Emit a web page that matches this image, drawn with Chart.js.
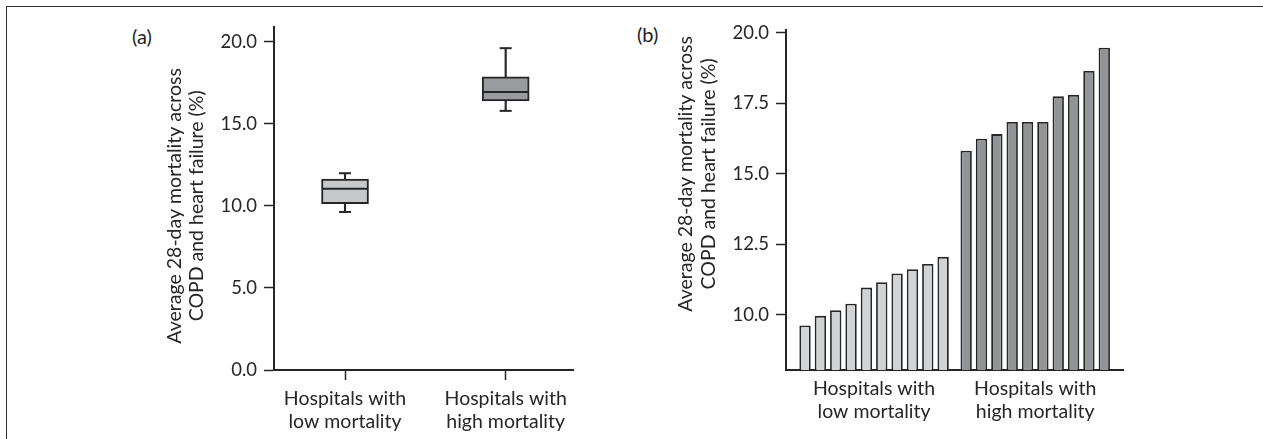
<!DOCTYPE html>
<html>
<head>
<meta charset="utf-8">
<script src="https://cdn.jsdelivr.net/npm/chart.js@4"></script>
<style>
  html, body { margin: 0; padding: 0; background: #fff; }
  body { width: 1263px; height: 439px; position: relative; overflow: hidden; font-family: Lato, sans-serif; }
  #frame { position: absolute; left: 6px; top: 6px; width: 1300px; height: 500px; border-top: 1.5px solid #333; border-left: 1.5px solid #333; }
  .plabel { position: absolute; font-size: 20px; line-height: 22px; color: #222; }
  .wrap { position: absolute; top: 0; }
</style>
</head>
<body>
<div id="frame"></div>
<div class="plabel" style="left:132px;top:25px">(a)</div>
<div class="plabel" style="left:637px;top:23px">(b)</div>
<div class="wrap" style="left:120px"><canvas id="ca" width="480" height="439"></canvas></div>
<div class="wrap" style="left:630px"><canvas id="cb" width="520" height="439"></canvas></div>
<script>
// ---------- data ----------
const yTitleLines = ['Average 28-day mortality across', 'COPD and heart failure (%)'];

// Panel (a): box plots
const categoriesA = [['Hospitals with', 'low mortality'], ['Hospitals with', 'high mortality']];
const boxMin    = [9.63, 15.79];
const boxQ1     = [10.14, 16.40];
const boxMedian = [11.04, 16.94];
const boxQ3     = [11.64, 17.86];
const boxMax    = [11.99, 19.61];
const yTicksA   = [0, 5, 10, 15, 20];

// Panel (b): hospital bars
const groupLabelsB = [['Hospitals with', 'low mortality'], ['Hospitals with', 'high mortality']];
const lowBars  = [9.63, 9.97, 10.17, 10.40, 10.97, 11.16, 11.47, 11.62, 11.81, 12.06];
const highBars = [15.82, 16.25, 16.41, 16.84, 16.84, 16.84, 17.75, 17.80, 18.65, 19.47];
const yTicksB  = [10, 12.5, 15, 17.5, 20];

// ---------- styles ----------
const INK = '#262626';
const TEXT_FONT = { family: 'Lato', size: 19.5 };
const TICK_FONT = { family: 'Lato', size: 18.5 };
const LOW_FILL = '#d2d3d5', HIGH_FILL = '#939498';
const BOX_LOW = '#c7c8ca', BOX_HIGH = '#9a9b9f';

const sideTitle = {
  id: 'sideTitle',
  afterDraw(chart, args, opts) {
    const ctx = chart.ctx;
    const y = chart.scales.y.getPixelForValue(opts.centerValue);
    const x = chart.chartArea.left - opts.offset;
    ctx.save();
    ctx.translate(x, y);
    ctx.rotate(-Math.PI / 2);
    ctx.fillStyle = INK;
    ctx.font = TEXT_FONT.size + 'px ' + TEXT_FONT.family;
    ctx.textAlign = 'center';
    ctx.textBaseline = 'middle';
    const n = opts.lines.length;
    opts.lines.forEach((t, i) => ctx.fillText(t, 0, (i - (n - 1) / 2) * opts.spacing));
    ctx.restore();
  }
};

function axisGrid(ticks) {
  return { display: ticks, drawOnChartArea: false, drawTicks: ticks, tickLength: 10, tickWidth: 1.5, tickColor: INK, offset: false };
}
const border = { display: true, color: INK, width: 2 };
const xLabelFont = { ...TEXT_FONT, lineHeight: 1.18 };

// ---------- panel (a) ----------
new Chart(document.getElementById('ca'), {
  type: 'bar',
  data: {
    datasets: [
      { type: 'bar', label: 'whisker', grouped: false, order: 3,
        data: categoriesA.map((c, i) => ({ x: i + 1, y: [boxMin[i], boxMax[i]] })),
        backgroundColor: INK, borderWidth: 0, barThickness: 1.5 },
      { type: 'bar', label: 'box', grouped: false, order: 2,
        data: categoriesA.map((c, i) => ({ x: i + 1, y: [boxQ1[i], boxQ3[i]] })),
        backgroundColor: [BOX_LOW, BOX_HIGH], borderColor: INK, borderWidth: 2, borderSkipped: false, barThickness: 47 },
      { type: 'line', label: 'median', order: 1, showLine: false,
        data: categoriesA.map((c, i) => ({ x: i + 1, y: boxMedian[i] })),
        pointStyle: 'line', pointRadius: 23, pointHoverRadius: 23, pointBorderWidth: 2, pointBorderColor: INK },
      { type: 'line', label: 'caps', order: 1, showLine: false,
        data: categoriesA.flatMap((c, i) => [{ x: i + 1, y: boxMin[i] }, { x: i + 1, y: boxMax[i] }]),
        pointStyle: 'line', pointRadius: 6, pointHoverRadius: 6, pointBorderWidth: 2, pointBorderColor: INK }
    ]
  },
  options: {
    responsive: false, animation: false,
    layout: { padding: { top: 27, right: 27, left: 0, bottom: 0 } },
    plugins: { legend: { display: false }, tooltip: { enabled: false },
      sideTitle: { lines: yTitleLines, centerValue: 10, offset: 88, spacing: 22 } },
    scales: {
      x: { type: 'linear', min: 0.558, max: 2.419, offset: false,
        grid: axisGrid(true), border,
        afterBuildTicks: s => { s.ticks = categoriesA.map((c, i) => ({ value: i + 1 })); },
        afterFit: s => { s.height = 69; },
        ticks: { font: xLabelFont, color: INK, padding: 7, maxRotation: 0, autoSkip: false,
          callback: (v, i) => categoriesA[i] } },
      y: { type: 'linear', min: 0, max: 20.9,
        grid: axisGrid(true), border,
        afterBuildTicks: s => { s.ticks = yTicksA.map(v => ({ value: v })); },
        afterFit: s => { s.width = 154; },
        ticks: { font: TICK_FONT, color: INK, padding: 7, callback: v => Number(v).toFixed(1) } }
    }
  },
  plugins: [sideTitle]
});

// ---------- panel (b) ----------
const barPoints = lowBars.map((v, i) => ({ x: i, y: v }))
  .concat(highBars.map((v, i) => ({ x: lowBars.length + 0.5 + i, y: v })));
const groupCenters = [(lowBars.length - 1) / 2, lowBars.length + 0.5 + (highBars.length - 1) / 2];

new Chart(document.getElementById('cb'), {
  type: 'bar',
  data: {
    datasets: [{
      label: 'hospitals',
      data: barPoints,
      backgroundColor: lowBars.map(() => LOW_FILL).concat(highBars.map(() => HIGH_FILL)),
      borderColor: INK, borderWidth: 1.8,
      barPercentage: 0.74, categoryPercentage: 1
    }]
  },
  options: {
    responsive: false, animation: false,
    layout: { padding: { top: 30, right: 27, left: 0, bottom: 0 } },
    plugins: { legend: { display: false }, tooltip: { enabled: false },
      sideTitle: { lines: yTitleLines, centerValue: 15, offset: 89, spacing: 23 } },
    scales: {
      x: { type: 'linear', min: -1.24, max: 20.72, offset: false,
        grid: axisGrid(false), border,
        afterBuildTicks: s => { s.ticks = groupCenters.map(v => ({ value: v })); },
        afterFit: s => { s.height = 69; },
        ticks: { font: xLabelFont, color: INK, padding: 7, maxRotation: 0, autoSkip: false,
          callback: (v, i) => groupLabelsB[i] } },
      y: { type: 'linear', min: 8.05, max: 20.1,
        grid: axisGrid(true), border,
        afterBuildTicks: s => { s.ticks = yTicksB.map(v => ({ value: v })); },
        afterFit: s => { s.width = 156; },
        ticks: { font: TICK_FONT, color: INK, padding: 7, callback: v => Number(v).toFixed(1) } }
    }
  },
  plugins: [sideTitle]
});
</script>
</body>
</html>
